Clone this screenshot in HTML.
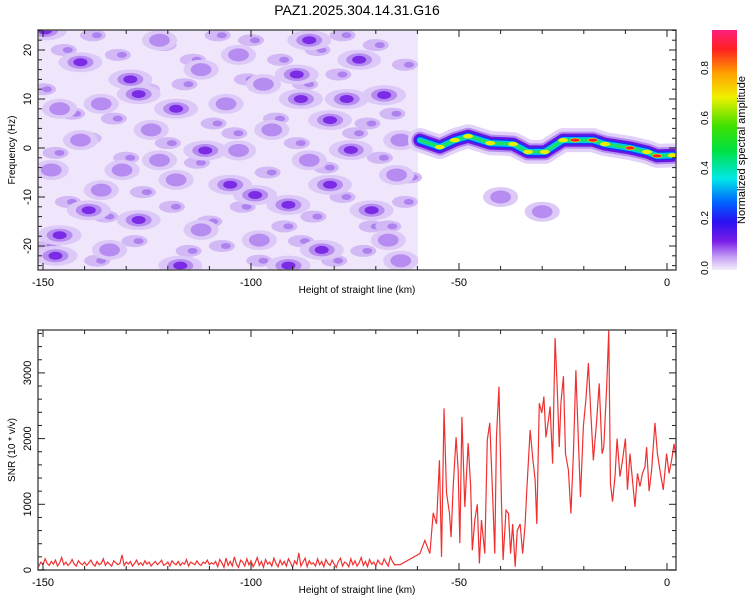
<!DOCTYPE html>
<html><head><meta charset="utf-8"><style>
body{margin:0;background:#fff}
svg text{font-family:"Liberation Sans",sans-serif;fill:#000}
</style></head><body>
<svg id="c" width="750" height="600" viewBox="0 0 750 600" xmlns="http://www.w3.org/2000/svg">
<defs>
<linearGradient id="cbar" x1="0" y1="1" x2="0" y2="0">
<stop offset="0" stop-color="#f4eefc"/><stop offset="0.05" stop-color="#c9a6f4"/><stop offset="0.12" stop-color="#7a1ee8"/>
<stop offset="0.2" stop-color="#2a10f0"/><stop offset="0.28" stop-color="#0060ff"/><stop offset="0.38" stop-color="#00e8e8"/>
<stop offset="0.5" stop-color="#00e040"/><stop offset="0.6" stop-color="#40e000"/><stop offset="0.72" stop-color="#f0f000"/>
<stop offset="0.82" stop-color="#ffa000"/><stop offset="0.92" stop-color="#ff2020"/><stop offset="1" stop-color="#ff2080"/>
</linearGradient>
<clipPath id="clipTop"><rect x="38" y="30" width="638" height="240"/></clipPath>
<clipPath id="clipBot"><rect x="38" y="330" width="638" height="240"/></clipPath>
</defs>
<text x="357" y="15" font-size="14" text-anchor="middle">PAZ1.2025.304.14.31.G16</text>
<g id="gtop" clip-path="url(#clipTop)">
<rect x="38" y="30" width="380" height="240" fill="#efe6fb"/>
</g>
<g id="gbot" clip-path="url(#clipBot)"></g>
<g id="axes"></g>
<rect x="712" y="30" width="25" height="240" fill="url(#cbar)"/>
<text transform="translate(745,150) rotate(-90)" font-size="11" text-anchor="middle">Normalized spectral amplitude</text>
</svg>
<script>
// ---- data ----
const ridgeKm=[-59.4,-54.6,-51,-47.8,-42.5,-37,-33.4,-29.4,-25,-22.1,-17.8,-14.9,-8.9,-4.8,-2.4,1.4];
const ridgeHz=[1.6,0.2,1.6,2.4,1,0.8,-0.8,-0.8,1.6,1.6,1.6,0.8,0,-0.8,-1.6,-1.5];
const ridgeAmp=[0.35,0.55,0.6,0.55,0.5,0.55,0.6,0.55,0.6,0.75,0.75,0.6,0.85,0.5,0.75,0.6];
const blobKm=[-129,-127,-136,-141,-86,-89,-88,-118,-106,-111,-103,-99,-91,-81,-136,-139,-146,-127,-98,-71,-68,-64,-76,-118,-131,-148,-147,-149.5,-122,-103,-74,-112,-95,-124,-141,-81,-112,-83,-67,-134,-117,-91,-64,-105,-65,-97,-77,-146,-122,-86,-40,-30];
const blobHz=[14,11,9,17.5,22,15,10,8,9,-0.5,-0.5,-9.6,-11.6,-7.5,-8.6,-12.7,-17.8,-14.7,-18.8,-12.7,10.8,1.6,-0.4,-6.5,-4.5,-4.5,-22,24,22,19,18,16,3.7,3.7,1.6,5.7,-16.7,-20.8,-18.8,-20.8,-24,-24,-23,-7.5,-5.5,13,10,8,-2.5,-2.5,-10,-13];
const blobLvl=[2,2,1,2,2,2,2,2,1,2,1,2,2,2,1,2,2,2,1,2,2,1,2,1,1,1,2,2,1,1,2,1,1,1,1,2,1,2,1,1,2,2,1,2,1,1,2,1,1,1,1,1];
const midKm=[-145,-138,-132,-121,-114,-108,-100,-93,-84,-78,-70,-63,-150,-143,-133,-125,-116,-109,-101,-94,-87,-79,-72,-66,-147,-139,-130,-120,-113,-104,-96,-89,-82,-75,-69,-62,-144,-135,-126,-119,-110,-102,-92,-85,-78,-71,-63,-149,-137,-128,-115,-107,-98,-88,-80,-73,-67];
const midHz=[20,23,19,21,18,23,22,18,20,23,21,17,12,7,6,12,13,5,14,6,13,15,5,7,-1,2,-2,1,-3,3,-5,1,-4,3,-2,-6,-11,-14,-9,-12,-15,-12,-16,-14,-10,-16,-11,-20,-23,-19,-21,-20,-23,-19,-23,-21,-16];
const snrKm=[];const snrVal=[];
const noiseVals=[90,140,60,120,80,170,100,70,130,90,150,60,110,190,80,120,70,100,160,90,60,140,100,80,120,70,110,150,90,60,130,80,100,170,70,120,90,60,140,110,80,100,230,70,120,90,130,60,100,150,80,110,70,140,90,120,60,100,130,80,110,150,70,90,120,60,140,100,80,130,70,110,90,160,60,120,100,80,140,90,70,120,100,150,80,110,90,130,
50,160,110,40,180,70,130,60,200,90,40,150,120,60,170,80,140,50,110,190,70,130,40,160,90,120,60,180,100,50,150,80,130,60,170,110,40,140,90,260,60,120,180,50,140,90,110,60,170,80,130,50,160,100,70,150,90,40,130,180,60,120,100,50,170,80,140,60,110,190,70,130,50,160,90,120,60,150,100,80,170,110,60,200,130,80];
const activeKm=[-64.2,-59.4,-58.2,-57,-56.2,-55.4,-54.7,-54.2,-53.6,-53,-52.3,-51.9,-51.4,-50.7,-50.2,-49.8,-49.3,-48.6,-47.8,-47.2,-46.8,-46.2,-45.6,-45.1,-44.6,-43.8,-43.2,-42.6,-41.9,-41.4,-41,-40.4,-39.8,-39.4,-38.7,-38.1,-37.6,-37.1,-36.5,-36,-35.3,-34.7,-34.1,-33.7,-32.9,-32.3,-31.7,-31.3,-30.7,-30.1,-29.6,-29.1,-28.5,-28.1,-27.5,-26.9,-26.4,-25.9,-25.5,-24.9,-24.4,-23.7,-23.1,-22.5,-21.9,-21.6,-20.8,-20.1,-19.5,-18.9,-18.4,-17.7,-16.9,-16.3,-15.6,-15.2,-14.5,-14,-13.6,-13.1,-12.5,-12,-11.3,-10.7,-10,-9.5,-8.9,-8.3,-7.7,-7.1,-6.5,-5.9,-5.3,-4.9,-4.3,-3.7,-2.9,-2.3,-1.7,-0.9,-0.1,0.5,1.1,1.7,2.3];
const activeVal=[80,250,450,250,870,700,1670,200,2460,1170,870,500,1270,2020,1520,410,2330,960,1930,1270,300,760,1000,100,760,250,1980,2240,1110,250,2020,2790,1060,150,910,860,250,700,50,600,700,250,700,1220,2130,1720,1370,700,2540,2390,2640,2020,2280,2490,1620,3530,2790,1870,2540,2950,1770,1520,860,1770,3040,2490,1110,2190,2590,3150,2490,1670,2280,2840,1770,1870,2790,3650,1320,1040,1420,2000,1420,1670,2000,1220,1770,1370,960,1470,1270,1470,1570,1870,1200,1520,2240,1770,1520,1220,1770,1470,1670,1920,1650];
const xTicks=[-150,-100,-50,0];
const fTicks=[-20,-10,0,10,20];
const sTicks=[0,1000,2000,3000];
const cTicks=[0,0.2,0.4,0.6,0.8];
// ---- scales ----
const X=k=>667+(k)*4.16;
const YF=h=>148-h*4.9;
const YS=v=>570-v*0.0657;
const YC=v=>268-v*250;
const NS='http://www.w3.org/2000/svg';
function mk(tag,attrs,parent){const e=document.createElementNS(NS,tag);for(const a in attrs)e.setAttribute(a,attrs[a]);parent.appendChild(e);return e;}
const gTop=document.getElementById('gtop'),gBot=document.getElementById('gbot'),gAx=document.getElementById('axes');
// mid blobs
for(let i=0;i<midKm.length;i++){
 const e=mk('ellipse',{cx:X(midKm[i]),cy:YF(midHz[i]),rx:13,ry:6,fill:'#d2b8f5'},gTop);
 
 
 const f=mk('ellipse',{cx:X(midKm[i])+4,cy:YF(midHz[i]),rx:5,ry:3,fill:'#ae82ee'},gTop);
 
 
}
// main blobs
[[22,10,'#ddc9f8'],[13,6.5,'#b68cf0'],[7,4,'#7b2be6']].forEach((s,li)=>{
 for(let i=0;i<blobKm.length;i++){
  if(li===2&&blobLvl[i]<2)continue;
  const e=mk('ellipse',{cx:X(blobKm[i]),cy:YF(blobHz[i]),rx:s[0]*(li===2?1:(blobLvl[i]===2?1:0.8)),ry:s[1],fill:s[2]},gTop);
  
  
 }
});
// ridge
const rpts=ridgeKm.map((k,i)=>X(k)+','+YF(ridgeHz[i])).join(' ');
[[24,'#e2d2f9'],[17,'#b58cf0'],[13,'#6a14e4'],[9,'#1a30f8'],[6,'#00c8e8'],[3,'#20e060']].forEach(s=>{
 const p=mk('polyline',{points:rpts,fill:'none',stroke:s[1],'stroke-width':s[0],'stroke-linejoin':'round','stroke-linecap':'round'},gTop);
 
 
});
for(let i=0;i<ridgeKm.length;i++){
 const cx=X(ridgeKm[i]),cy=YF(ridgeHz[i]),a=ridgeAmp[i];
 if(a>=0.5){const e=mk('ellipse',{cx:cx,cy:cy,rx:5,ry:2.2,fill:'#e8f000'},gTop);
  
  }
 if(a>=0.7){const e=mk('ellipse',{cx:cx,cy:cy,rx:4.5,ry:1.6,fill:'#ff2020'},gTop);
  
  }
}
// SNR series
for(let i=0;i<noiseVals.length;i++){snrKm.push(-152+i*0.5);snrVal.push(noiseVals[i]);}
for(let i=0;i<activeKm.length;i++){snrKm.push(activeKm[i]);snrVal.push(activeVal[i]);}
const sl=mk('polyline',{points:snrKm.map((k,i)=>X(k)+','+YS(snrVal[i])).join(' '),fill:'none',stroke:'#f03030','stroke-width':1.2},gBot);


// axes
function frame(y0,name){const r=mk('rect',{x:38,y:y0,width:638,height:240,fill:'none',stroke:'#555','stroke-width':1.5},gAx);
 
 }
frame(30,'spectrogram-frame');frame(330,'snr-frame');
[[30,270],[330,570]].forEach(([t,b])=>{
 for(let k=-150;k<=0;k+=10){const x=X(k),L=(k%50===0)?7:4;
  mk('line',{x1:x,y1:b,x2:x,y2:b-L,stroke:'#222'},gAx);mk('line',{x1:x,y1:t,x2:x,y2:t+L,stroke:'#222'},gAx);}
 xTicks.forEach(k=>{const tx=mk('text',{x:X(k),y:b+16,'font-size':11,'text-anchor':'middle'},gAx);tx.textContent=k;
  
  });
 const xl=mk('text',{x:357,y:b+23,'font-size':10,'text-anchor':'middle'},gAx);xl.textContent='Height of straight line (km)';
 
 
});
for(let h=-24;h<=24;h+=2){const y=YF(h),L=(h%10===0)?7:4;mk('line',{x1:38,y1:y,x2:38+L,y2:y,stroke:'#222'},gAx);mk('line',{x1:676,y1:y,x2:676-L,y2:y,stroke:'#222'},gAx);}
fTicks.forEach(h=>{const t=mk('text',{transform:`translate(31,${YF(h)}) rotate(-90)`,'font-size':11,'text-anchor':'middle'},gAx);t.textContent=h;
 
 });
for(let v=0;v<=3600;v+=200){const y=YS(v),L=(v%1000===0)?7:4;mk('line',{x1:38,y1:y,x2:38+L,y2:y,stroke:'#222'},gAx);mk('line',{x1:676,y1:y,x2:676-L,y2:y,stroke:'#222'},gAx);}
sTicks.forEach(v=>{const t=mk('text',{transform:`translate(31,${YS(v)}) rotate(-90)`,'font-size':11,'text-anchor':'middle'},gAx);t.textContent=v;
 
 });
const yl1=mk('text',{transform:'translate(15,150) rotate(-90)','font-size':10,'text-anchor':'middle'},gAx);yl1.textContent='Frequency (Hz)';


const yl2=mk('text',{transform:'translate(15,450) rotate(-90)','font-size':10,'text-anchor':'middle'},gAx);yl2.textContent='SNR (10 * v/v)';


cTicks.forEach(v=>{const y=YC(v);mk('line',{x1:712,y1:y,x2:716,y2:y,stroke:'#222'},gAx);
 const t=mk('text',{transform:`translate(708,${y}) rotate(-90)`,'font-size':10,'text-anchor':'middle'},gAx);t.textContent=v.toFixed(1);
 
 });
</script>
</body></html>
